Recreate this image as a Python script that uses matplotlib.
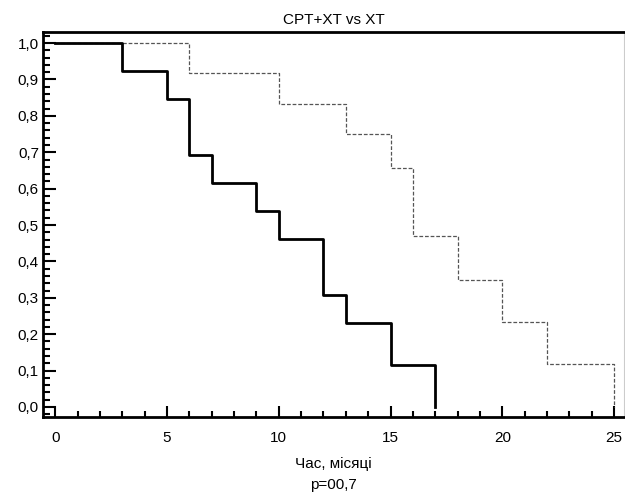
import matplotlib
matplotlib.use("Agg")
import matplotlib.pyplot as plt
from matplotlib.ticker import MultipleLocator, FuncFormatter

plt.rcParams['font.family'] = ['Liberation Sans', 'DejaVu Sans']

# CPT+XT group (solid) - step times and survival after each step
cpt_t = [0, 3, 5, 6, 7, 9, 10, 12, 13, 15, 17]
cpt_s = [1.0, 0.923, 0.846, 0.692, 0.615, 0.538, 0.462, 0.308, 0.231, 0.115, 0.0]

# XT group (dashed)
xt_t = [0, 6, 10, 13, 15, 16, 18, 20, 22, 25]
xt_s = [1.0, 0.917, 0.833, 0.75, 0.656, 0.469, 0.35, 0.233, 0.117, 0.0]

title = "CPT+XT vs XT"
xlabel = "Час, місяці\np=00,7"

fig = plt.figure(figsize=(6.25, 4.95), dpi=100)
ax = fig.add_axes([0.069, 0.158, 0.93, 0.777])

ax.step(xt_t, xt_s, where='post', color='#555555', lw=0.9, ls=(0, (3, 1.5)))
ax.step(cpt_t, cpt_s, where='post', color='black', lw=2.0)

ax.set_xlim(-0.54, 25.46)
ax.set_ylim(-0.027, 1.03)

ax.xaxis.set_major_locator(MultipleLocator(5))
ax.xaxis.set_minor_locator(MultipleLocator(1))
ax.yaxis.set_major_locator(MultipleLocator(0.1))
ax.yaxis.set_minor_locator(MultipleLocator(0.02))
ax.yaxis.set_major_formatter(FuncFormatter(lambda v, p: f"{v:.1f}".replace('.', ',')))

ax.tick_params(which='both', direction='in', width=1.5, labelsize=11, color='black')
ax.tick_params(axis='y', which='major', length=9, pad=3)
ax.tick_params(axis='y', which='minor', length=5)
ax.tick_params(axis='x', which='major', length=8, pad=10)
ax.tick_params(axis='x', which='minor', length=4)
ax.tick_params(top=False, right=False, which='both')

for s in ['left', 'bottom', 'top']:
    ax.spines[s].set_linewidth(2.0)
ax.spines['right'].set_linewidth(0.8)
ax.spines['right'].set_color('#cccccc')

ax.set_title(title, fontsize=11, pad=6)
ax.set_xlabel(xlabel, fontsize=11, labelpad=9, linespacing=1.65)

fig.savefig("out.png", dpi=100)
